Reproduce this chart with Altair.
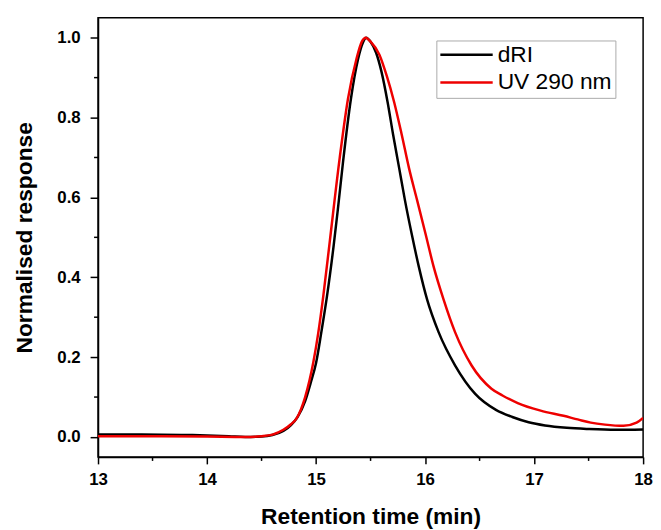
import altair as alt
import pandas as pd

# dRI trace (black)
t_dri = [13.0, 13.4, 13.8, 14.0, 14.2, 14.35, 14.5, 14.6, 14.7, 14.77, 14.83, 14.9, 14.95,
         15.0, 15.05, 15.1, 15.16, 15.2, 15.248, 15.32, 15.385, 15.43, 15.46, 15.5, 15.55,
         15.6, 15.656, 15.707, 15.762, 15.816, 15.877, 15.943, 16.019, 16.125, 16.276, 16.46,
         16.65, 16.8, 16.95, 17.1, 17.3, 17.5, 17.75, 18.0]
v_dri = [0.006, 0.006, 0.005, 0.004, 0.002, 0.000, 0.001, 0.005, 0.015, 0.030, 0.050, 0.090, 0.135,
         0.185, 0.265, 0.352, 0.476, 0.570, 0.690, 0.847, 0.946, 0.988, 1.000, 0.990, 0.963,
         0.915, 0.839, 0.757, 0.674, 0.592, 0.509, 0.426, 0.344, 0.262, 0.179, 0.108,
         0.068, 0.050, 0.037, 0.029, 0.023, 0.020, 0.018, 0.019]

# UV 290 nm trace (red)
t_uv = [13.0, 13.5, 14.0, 14.35, 14.5, 14.6, 14.7, 14.77, 14.82, 14.9, 14.975, 15.02, 15.066,
        15.126, 15.217, 15.293, 15.37, 15.42, 15.455, 15.5, 15.58, 15.65, 15.716, 15.786,
        15.852, 15.928, 16.004, 16.079, 16.17, 16.276, 16.427, 16.609, 16.71, 16.85, 17.06,
        17.27, 17.4, 17.52, 17.65, 17.82, 17.94, 18.0]
v_uv = [0.002, 0.002, 0.001, 0.000, 0.002, 0.006, 0.018, 0.032, 0.046, 0.100, 0.187, 0.260, 0.352,
        0.490, 0.699, 0.847, 0.946, 0.990, 1.000, 0.990, 0.958, 0.903, 0.839, 0.757,
        0.674, 0.592, 0.509, 0.426, 0.344, 0.262, 0.179, 0.121, 0.104, 0.085, 0.066,
        0.053, 0.044, 0.036, 0.031, 0.028, 0.036, 0.048]

series = ["dRI", "UV 290 nm"]
colors = ["#000000", "#ee0000"]
x_major = [13, 14, 15, 16, 17, 18]
x_minor = [13.5, 14.5, 15.5, 16.5, 17.5]
y_major = [0.0, 0.2, 0.4, 0.6, 0.8, 1.0]
y_minor = [0.1, 0.3, 0.5, 0.7, 0.9]

df = pd.concat([
    pd.DataFrame({"t": t_dri, "v": v_dri, "series": series[0], "k": 0}),
    pd.DataFrame({"t": t_uv, "v": v_uv, "series": series[1], "k": 1}),
], ignore_index=True)

FONT = "Liberation Sans"
W, H = 551, 444

xscale = alt.Scale(domain=[13, 18], nice=False, zero=False)
yscale = alt.Scale(domain=[-0.05, 1.05], nice=False, zero=False)

lines = alt.Chart(df).mark_line(strokeWidth=2.5, interpolate="monotone", clip=True).encode(
    x=alt.X("t:Q", scale=xscale,
            axis=alt.Axis(title="Retention time (min)", values=x_major, format="d",
                          tickSize=7, labelPadding=8, titlePadding=18, grid=False,
                          labelFlush=False)),
    y=alt.Y("v:Q", scale=yscale,
            axis=alt.Axis(title="Normalised response", values=y_major, format=".1f",
                          tickSize=8, labelPadding=10, titlePadding=21, grid=False,
                          labelFlush=False)),
    color=alt.Color("series:N",
                    scale=alt.Scale(domain=series, range=colors),
                    legend=alt.Legend(title=None, orient="none", legendX=342, legendY=23,
                                      symbolType="M-5,0H5", symbolSize=112, symbolStrokeWidth=2.5,
                                      symbolOffset=16, labelOffset=20,
                                      labelFontSize=23, labelFont=FONT, labelColor="black",
                                      rowPadding=4, padding=3,
                                      strokeColor="#aaaaaa", fillColor="white")),
    order=alt.Order("k:Q"),
)

xminor = alt.Chart(pd.DataFrame({"t": x_minor})).mark_rule(
    color="black", strokeWidth=1.5, clip=False
).encode(
    x=alt.X("t:Q", scale=xscale),
    y=alt.value(H), y2=alt.value(H + 4),
)

yminor = alt.Chart(pd.DataFrame({"v": y_minor})).mark_rule(
    color="black", strokeWidth=1.5, clip=False
).encode(
    y=alt.Y("v:Q", scale=yscale),
    x=alt.value(0), x2=alt.value(-4),
)

chart = alt.layer(lines, xminor, yminor).properties(
    width=W, height=H,
    autosize=alt.AutoSizeParams(type="none"),
    padding={"left": 91, "top": 7, "right": 10, "bottom": 70},
).configure_view(
    stroke="black", strokeWidth=1.5
).configure_axis(
    domainColor="black", domainWidth=1.5, tickColor="black", tickWidth=1.5,
    labelFont=FONT, labelFontSize=17, labelFontWeight="bold", labelColor="black",
    titleFont=FONT, titleFontSize=23, titleFontWeight="bold", titleColor="black",
)

chart.save("out.html", embed_options={"renderer": "svg", "actions": False})
